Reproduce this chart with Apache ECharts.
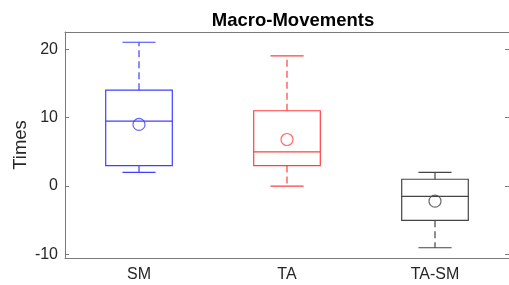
<!DOCTYPE html>
<html>
<head>
<meta charset="utf-8">
<script src="https://cdn.jsdelivr.net/npm/echarts@6/dist/echarts.min.js"></script>
<style>
  * { margin: 0; padding: 0; }
  body { background: #fff; }
</style>
</head>
<body>
<div id="chart" style="width: 509px; height: 285px"></div>
<script>
// groups and box stats
var groups = ["SM", "TA", "TA-SM"];
var whiskerLow = [2, 0, -9];
var q1 = [3, 3, -5];
var median = [9.5, 5, -1.5];
var q3 = [14, 11, 1];
var whiskerHigh = [21, 19, 2];
var means = [9, 6.8, -2.2];
var yTicks = [-10, 0, 10, 20];

var colors = ["#4040ff", "#ff4040", "#454545"];
var axisColor = "#7a7a7a";
var textColor = "#262626";

var boxData = groups.map(function (g, i) {
  return [i, whiskerLow[i], q1[i], median[i], q3[i], whiskerHigh[i]];
});
var meanData = groups.map(function (g, i) {
  return { value: [i, means[i]], itemStyle: { borderColor: colors[i] } };
});

var chart = echarts.init(document.getElementById("chart"));

function renderBox(params, api) {
  var i = api.value(0);
  var band = api.size([1, 0])[0];
  var halfBox = band * 0.225;
  var halfCap = band * 0.112;
  var pLow = api.coord([i, api.value(1)]);
  var pQ1 = api.coord([i, api.value(2)]);
  var pMed = api.coord([i, api.value(3)]);
  var pQ3 = api.coord([i, api.value(4)]);
  var pHigh = api.coord([i, api.value(5)]);
  var x = pMed[0];
  var c = colors[i];
  var solid = { stroke: c, lineWidth: 1.2, fill: null };
  var dashed = { stroke: c, lineWidth: 1.2, lineDash: [7, 4], fill: null };
  return {
    type: "group",
    children: [
      { type: "line", shape: { x1: x, y1: pQ3[1], x2: x, y2: pHigh[1] }, style: dashed },
      { type: "line", shape: { x1: x, y1: pQ1[1], x2: x, y2: pLow[1] }, style: dashed },
      { type: "line", shape: { x1: x - halfCap, y1: pHigh[1], x2: x + halfCap, y2: pHigh[1] }, style: solid },
      { type: "line", shape: { x1: x - halfCap, y1: pLow[1], x2: x + halfCap, y2: pLow[1] }, style: solid },
      { type: "rect", shape: { x: x - halfBox, y: pQ3[1], width: halfBox * 2, height: pQ1[1] - pQ3[1] }, style: solid },
      { type: "line", shape: { x1: x - halfBox, y1: pMed[1], x2: x + halfBox, y2: pMed[1] }, style: solid }
    ]
  };
}

var tickStyle = { inside: true, length: 4, lineStyle: { color: axisColor } };

var option = {
  animation: false,
  textStyle: { fontFamily: "Liberation Sans, Arial, sans-serif" },
  title: {
    text: "Macro-Movements",
    left: 288,
    textAlign: "center",
    top: 6,
    textStyle: { fontSize: 18.5, fontWeight: "bold", color: "#000" }
  },
  grid: { left: 65, top: 32, width: 445, height: 226 },
  xAxis: [
    {
      type: "category",
      data: groups,
      axisLine: { onZero: false, lineStyle: { color: axisColor } },
      axisTick: Object.assign({ alignWithLabel: true }, tickStyle),
      axisLabel: { color: textColor, fontSize: 16, margin: 9 },
      splitLine: { show: false }
    },
    {
      type: "category",
      data: groups,
      position: "top",
      axisLine: { onZero: false, lineStyle: { color: axisColor } },
      axisTick: Object.assign({ alignWithLabel: true }, tickStyle),
      axisLabel: { show: false },
      splitLine: { show: false }
    }
  ],
  yAxis: [
    {
      type: "value",
      min: -10.5,
      max: 22.5,
      name: "Times",
      nameLocation: "middle",
      nameGap: 35,
      nameMoveOverlap: false,
      nameTextStyle: { color: textColor, fontSize: 18.5 },
      axisLine: { show: true, onZero: false, lineStyle: { color: axisColor } },
      axisTick: Object.assign({ show: true, customValues: yTicks }, tickStyle),
      axisLabel: { color: textColor, fontSize: 16, margin: 7, customValues: yTicks },
      splitLine: { show: false }
    },
    {
      type: "value",
      min: -10.5,
      max: 22.5,
      position: "right",
      axisLine: { show: true, onZero: false, lineStyle: { color: axisColor } },
      axisTick: Object.assign({ show: true, customValues: yTicks }, tickStyle),
      axisLabel: { show: false },
      splitLine: { show: false }
    }
  ],
  series: [
    {
      type: "custom",
      renderItem: renderBox,
      data: boxData,
      encode: { x: 0, y: [1, 2, 3, 4, 5] },
      silent: true
    },
    {
      type: "scatter",
      data: meanData,
      symbol: "circle",
      symbolSize: 12,
      itemStyle: { color: "rgba(0,0,0,0)", borderWidth: 1.2 },
      silent: true
    }
  ]
};

chart.setOption(option);
</script>
</body>
</html>
